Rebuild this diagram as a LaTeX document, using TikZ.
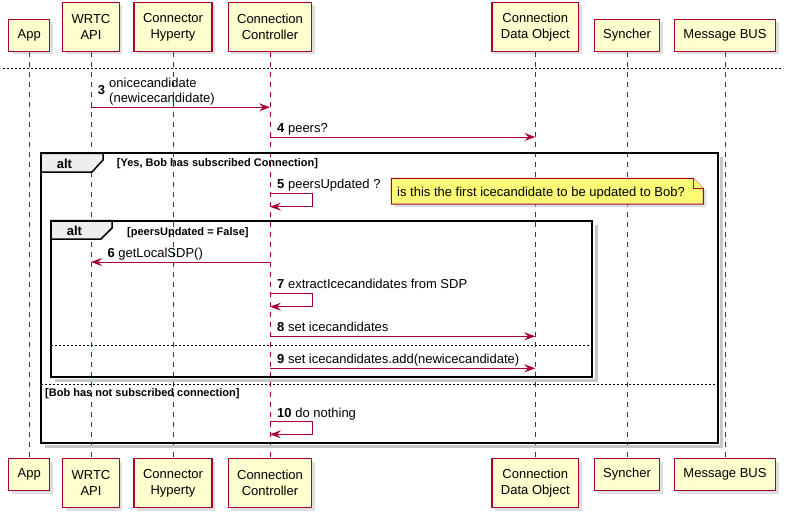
\documentclass[tikz,border=0pt]{standalone}
\usepackage{fontspec}
\setmainfont{Liberation Sans}
\usetikzlibrary{arrows.meta, calc, shadows}
\definecolor{umlred}{HTML}{A80036}
\definecolor{partfill}{HTML}{FEFECE}
\definecolor{notefill}{HTML}{FBFB77}
\definecolor{tabfill}{HTML}{EEEEEE}
\tikzset{
  part/.style={draw=umlred, fill=partfill, line width=1.2pt, align=center,
    inner xsep=9pt, inner ysep=4pt, minimum height=#1,
    font=\fontsize{13}{16}\selectfont,
    drop shadow={shadow xshift=3pt, shadow yshift=-3pt, fill=black!25}},
  part/.default=32pt,
  lifeline/.style={umlred, line width=0.8pt, dash pattern=on 5pt off 5pt},
  msg/.style={umlred, line width=1pt, -{Stealth[length=11pt, width=8pt, inset=4pt]}},
  msgtext/.style={anchor=base west, inner sep=0pt, font=\fontsize{13}{15}\selectfont},
  frame/.style={draw=black, line width=2pt},
  frameshadow/.style={draw=black!22, line width=3pt},
  tab/.style={draw=black, fill=tabfill, line width=1.5pt},
  altname/.style={anchor=base west, inner sep=0pt, font=\fontsize{13}{15}\selectfont\bfseries},
  guard/.style={anchor=base west, inner sep=0pt, font=\fontsize{11}{13}\selectfont\bfseries},
  sep/.style={draw=black, line width=0.8pt, dash pattern=on 2pt off 2pt},
  notebox/.style={draw=umlred, fill=notefill, line width=1pt},
}

\begin{document}
\begin{tikzpicture}[x=1pt, y=-1pt]
  \useasboundingbox (0,0) rectangle (794,519);

  % participants, top and bottom, with their lifelines
  \foreach \n/\x/\h/\lbl in {app/29.3/32/App, api/91/49/{WRTC\\API},
      hyp/173/49/{Connector\\Hyperty}, ctrl/270/49/{Connection\\Controller},
      cdo/535.3/49/{Connection\\Data Object}, syn/627/32/Syncher,
      bus/725/32/{Message BUS}}{
    \node[part=\h pt, anchor=south] (\n) at (\x,52) {\lbl};
    \node[part=\h pt, anchor=north] (\n-b) at (\x,458) {\lbl};
    \draw[lifeline] (\n.south) -- (\n-b.north);
  }

  \draw[sep] (3,68.3) -- (781.7,68.3);

  % message rows
  \coordinate (y3) at (0,107.3);
  \coordinate (y4) at (0,137);
  \coordinate (y5) at (0,193.3);
  \coordinate (y5e) at (0,206.7);
  \coordinate (y6) at (0,262);
  \coordinate (y7) at (0,293.3);
  \coordinate (y7e) at (0,306.7);
  \coordinate (y8) at (0,336.3);
  \coordinate (y9) at (0,368.3);
  \coordinate (y10) at (0,421.7);
  \coordinate (y10e) at (0,434.3);

  % outer alt
  \draw[frameshadow] (45,446.7) -| (721.7,157.3);
  \draw[tab] (41,153.3) -- (103,153.3) -- (103,160) -- (92,172) -- (41,172) -- cycle;
  \draw[frame] (41,153.3) rectangle (717.7,442.7);
  \node[altname] (alt1) at (56.7,168.3) {alt};
  \node[guard] (g1) at (116.7,166.7) {[Yes, Bob has subscribed Connection]};
  \draw[sep] (41,384.3) -- (717.7,384.3);
  \node[guard] (g1b) at (45,396) {[Bob has not subscribed connection]};

  % inner alt
  \draw[frameshadow] (55,380.7) -| (596.3,224.7);
  \draw[tab] (51,220.7) -- (112,220.7) -- (112,228) -- (101,239) -- (51,239) -- cycle;
  \draw[frame] (51,220.7) rectangle (592.3,376.7);
  \node[altname] (alt2) at (66.7,235.7) {alt};
  \node[guard] (g2) at (127,235) {[peersUpdated = False]};
  \draw[sep] (51,345.3) -- (592.3,345.3);

  % messages
  \draw[msg] (api |- y3) -- (ctrl |- y3);
  \node[msgtext] (n3) at (97.7,94.3) {\textbf{3}};
  \node[msgtext] (l3a) at (109,87.3) {onicecandidate};
  \node[msgtext] (l3b) at (109,102.3) {(newicecandidate)};

  \draw[msg] (ctrl |- y4) -- (cdo |- y4);
  \node[msgtext] (l4) at (277,132.5) {\textbf{4} peers?};

  \draw[msg] (ctrl |- y5) -- ++(42,0) |- (ctrl |- y5e);
  \node[msgtext] (l5) at (277,188.8) {\textbf{5} peersUpdated ?};

  \draw[notebox, drop shadow={shadow xshift=3pt, shadow yshift=-3pt, fill=black!25}]
    (391.3,178.3) -- (693.3,178.3) -- (703.3,188.3) -- (703.3,204) -- (391.3,204) -- cycle;
  \draw[notebox] (693.3,178.3) -- (693.3,188.3) -- (703.3,188.3);
  \node[msgtext] (note) at (397,196) {is this the first icecandidate to be updated to Bob?};

  \draw[msg] (ctrl |- y6) -- (api |- y6);
  \node[msgtext] (l6) at (107.3,257.8) {\textbf{6} getLocalSDP()};

  \draw[msg] (ctrl |- y7) -- ++(42,0) |- (ctrl |- y7e);
  \node[msgtext] (l7) at (277,288.8) {\textbf{7} extractIcecandidates from SDP};

  \draw[msg] (ctrl |- y8) -- (cdo |- y8);
  \node[msgtext] (l8) at (277,331.8) {\textbf{8} set icecandidates};

  \draw[msg] (ctrl |- y9) -- (cdo |- y9);
  \node[msgtext] (l9) at (277,363.8) {\textbf{9} set icecandidates.add(newicecandidate)};

  \draw[msg] (ctrl |- y10) -- ++(42,0) |- (ctrl |- y10e);
  \node[msgtext] (l10) at (277,417.2) {\textbf{10} do nothing};
\end{tikzpicture}
\end{document}
